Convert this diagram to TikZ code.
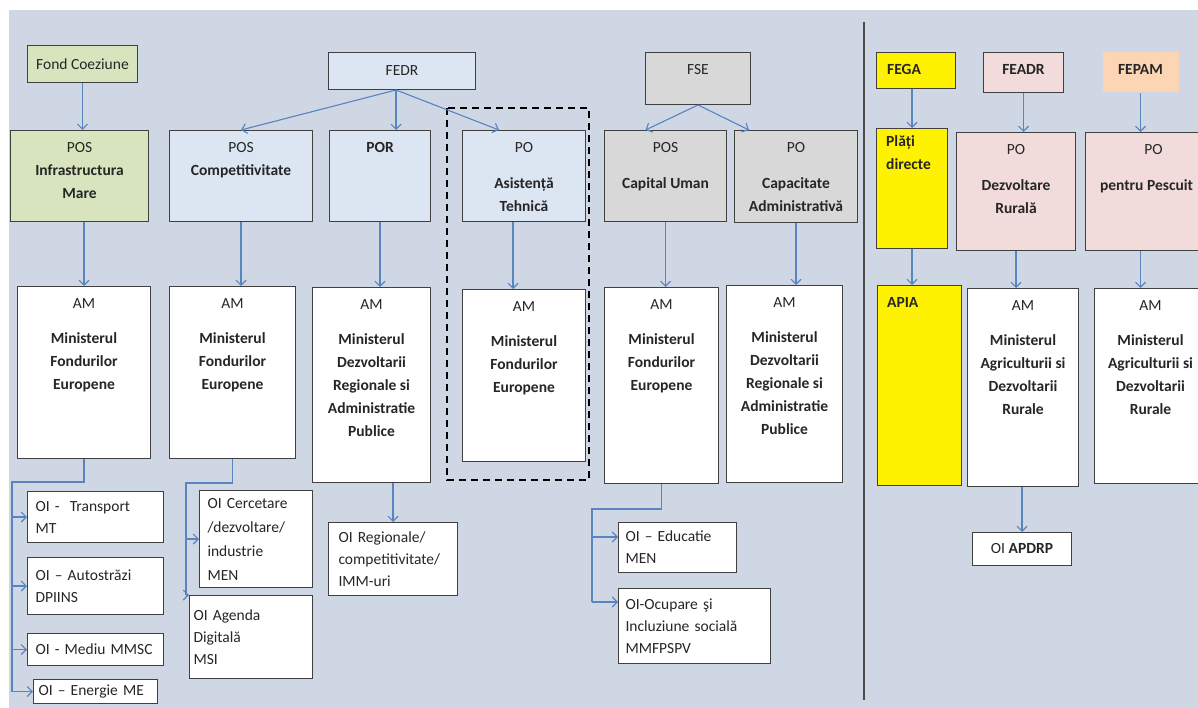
\documentclass[tikz,border=0pt]{standalone}
\usepackage{fontspec}
\setmainfont{Carlito}
\usetikzlibrary{arrows.meta,calc}

\definecolor{bgpanel}{RGB}{207,215,229}
\definecolor{boxline}{RGB}{64,64,64}
\definecolor{linkblue}{RGB}{88,132,192}
\definecolor{fillgreen}{RGB}{215,228,189}
\definecolor{fillblue}{RGB}{220,230,242}
\definecolor{fillgrey}{RGB}{216,216,216}
\definecolor{fillpink}{RGB}{242,220,219}
\definecolor{fillpeach}{RGB}{252,213,180}

\tikzset{
  box/.style={draw=boxline, line width=1pt, anchor=north west, inner sep=0pt},
  toptext/.style={anchor=north, align=center, inner sep=0pt, yshift=-12pt},
  oi/.style={box, fill=white, align=left, inner xsep=8pt, font=\fontsize{15.5}{22}\selectfont},
  link/.style={draw=linkblue, line width=1.1pt},
  arr/.style={link, -{Straight Barb[length=5pt,width=10pt]}},
}

\begin{document}
\begin{tikzpicture}[x=1pt, y=-1pt, font=\fontsize{15.5}{23}\selectfont, text=black!85]

\clip (0,0) rectangle (1198,708);
\fill[bgpanel] (9,10) rectangle (1198,708);

% funds
\node[box, fill=fillgreen, minimum width=110, minimum height=37] (fc) at (27,45) {Fond Coeziune};
\node[box, fill=fillblue, minimum width=147, minimum height=37] (fedr) at (328,52) {FEDR};
\node[box, fill=fillgrey, minimum width=105, minimum height=52] (fse) at (645,52) {};
\node[toptext] (fset) at (fse.north) {FSE};
\node[box, fill=yellow, minimum width=79, minimum height=36] (fega) at (876,52) {};
\node[toptext, anchor=north west, xshift=11pt] (fegat) at (fega.north west) {\textbf{FEGA}};
\node[box, fill=fillpink, minimum width=80, minimum height=40] (feadr) at (983,52) {};
\node[toptext] (feadrt) at (feadr.north) {\textbf{FEADR}};
\node[box, draw=none, fill=fillpeach, minimum width=76, minimum height=40] (fepam) at (1102,52) {};
\node[toptext] (fepamt) at (fepam.north) {\textbf{FEPAM}};

% programmes
\node[box, fill=fillgreen, minimum width=138, minimum height=91] (posim) at (10,130) {};
\node[toptext] (posimt) at (posim.north) {POS\\\textbf{Infrastructura}\\\textbf{Mare}};
\node[box, fill=fillblue, minimum width=143, minimum height=91] (posc) at (169,130) {};
\node[toptext] (posct) at (posc.north) {POS\\\textbf{Competitivitate}};
\node[box, fill=fillblue, minimum width=101, minimum height=91] (por) at (329,130) {};
\node[toptext] (port) at (por.north) {\textbf{POR}};
\node[box, fill=fillblue, minimum width=123, minimum height=91] (poat) at (462,130) {};
\node[toptext] (poatt) at (poat.north) {PO\\[13pt]\textbf{Asistență}\\\textbf{Tehnică}};
\node[box, fill=fillgrey, minimum width=122, minimum height=91] (pscu) at (604,130) {};
\node[toptext] (pscut) at (pscu.north) {POS\\[13pt]\textbf{Capital Uman}};
\node[box, fill=fillgrey, minimum width=123, minimum height=92] (pcap) at (734,130) {};
\node[toptext] (pcapt) at (pcap.north) {PO\\[13pt]\textbf{Capacitate}\\\textbf{Administrativă}};
\node[box, fill=yellow, minimum width=71, minimum height=120] (plati) at (876,128) {};
\node[toptext, anchor=north west, align=left, xshift=10pt, yshift=5pt] (platit) at (plati.north west) {\textbf{Plăți}\\\textbf{directe}};
\node[box, fill=fillpink, minimum width=119, minimum height=118] (podr) at (956,132) {};
\node[toptext] (podrt) at (podr.north) {PO\\[13pt]\textbf{Dezvoltare}\\\textbf{Rurală}};
\node[box, fill=fillpink, minimum width=130, minimum height=118] (popesc) at (1085,132) {};
\node[toptext, xshift=-4pt] (popesct) at (popesc.north) {\ \ \ \ PO\\[13pt]\textbf{pentru Pescuit}};

% managing authorities
\node[box, fill=white, minimum width=133, minimum height=172] (am1) at (17,286) {};
\node[toptext] (am1t) at (am1.north) {AM\\[12pt]\textbf{Ministerul}\\\textbf{Fondurilor}\\\textbf{Europene}};
\node[box, fill=white, minimum width=126, minimum height=172] (am2) at (169,286) {};
\node[toptext] (am2t) at (am2.north) {AM\\[12pt]\textbf{Ministerul}\\\textbf{Fondurilor}\\\textbf{Europene}};
\node[box, fill=white, minimum width=118, minimum height=195] (am3) at (312,287) {};
\node[toptext] (am3t) at (am3.north) {AM\\[12pt]\textbf{Ministerul}\\\textbf{Dezvoltarii}\\\textbf{Regionale si}\\\textbf{Administratie}\\\textbf{Publice}};
\node[box, fill=white, minimum width=123, minimum height=172] (am4) at (462,289) {};
\node[toptext] (am4t) at (am4.north) {AM\\[12pt]\textbf{Ministerul}\\\textbf{Fondurilor}\\\textbf{Europene}};
\node[box, fill=white, minimum width=114, minimum height=196] (am5) at (604,287) {};
\node[toptext] (am5t) at (am5.north) {AM\\[12pt]\textbf{Ministerul}\\\textbf{Fondurilor}\\\textbf{Europene}};
\node[box, fill=white, minimum width=116, minimum height=197] (am6) at (726,285) {};
\node[toptext] (am6t) at (am6.north) {AM\\[12pt]\textbf{Ministerul}\\\textbf{Dezvoltarii}\\\textbf{Regionale si}\\\textbf{Administratie}\\\textbf{Publice}};
\node[box, fill=yellow, minimum width=84, minimum height=200] (apia) at (877,285) {};
\node[toptext, anchor=north west, xshift=10pt] (apiat) at (apia.north west) {\textbf{APIA}};
\node[box, fill=white, minimum width=111, minimum height=198] (am7) at (967,288) {};
\node[toptext] (am7t) at (am7.north) {AM\\[12pt]\textbf{Ministerul}\\\textbf{Agriculturii si}\\\textbf{Dezvoltarii}\\\textbf{Rurale}};
\node[box, fill=white, minimum width=112, minimum height=195] (am8) at (1094,288) {};
\node[toptext] (am8t) at (am8.north) {AM\\[12pt]\textbf{Ministerul}\\\textbf{Agriculturii si}\\\textbf{Dezvoltarii}\\\textbf{Rurale}};

% intermediate bodies
\node[oi, text width=120, minimum height=51] (oitr) at (27,491) {OI -\ \ Transport\\MT};
\node[oi, text width=120, minimum height=57] (oiau) at (27,557) {OI – Autostrăzi\\DPIINS};
\node[oi, text width=120, minimum height=32] (oimd) at (27,633) {OI - Mediu MMSC};
\node[oi, inner xsep=5pt, text width=114, minimum height=24] (oien) at (33,679) {OI – Energie ME};
\node[oi, text width=97, minimum height=97, font=\fontsize{15.5}{24}\selectfont] (oicd) at (199,490) {OI Cercetare\\/dezvoltare/\\industrie\\MEN};
\node[oi, inner xsep=4pt, text width=115, minimum height=83] (oiag) at (189,595) {OI Agenda\\Digitală\\MSI};
\node[oi, inner xsep=10pt, text width=109, minimum height=73] (oirg) at (328,522) {OI Regionale/\\competitivitate/\\IMM-uri};
\node[oi, inner xsep=7pt, text width=104, minimum height=50] (oied) at (618,522) {OI – Educatie\\MEN};
\node[oi, inner xsep=7pt, text width=138, minimum height=75] (oioc) at (618,588) {OI-Ocupare şi\\Incluziune socială\\MMFPSPV};
\node[box, fill=white, minimum width=99, minimum height=33] (apdrp) at (972,532) {OI \textbf{APDRP}};

% frames
\draw[line width=1.5pt, dash pattern=on 7pt off 5pt] (447,108) rectangle (589,480);
\draw[line width=1.2pt, draw=black!70] (864,22) -- (864,700);

% links from funds
\draw[arr] (fc.south) -- (fc.south |- posim.north);
\coordinate (fedrout) at ($(fedr.south)+(-6,0)$);
\draw[arr] (fedrout) -- (posc.north);
\draw[arr] (fedrout) -- (fedrout |- por.north);
\draw[arr] (fedrout) -- ($(poat.north)+(-25,0)$);
\draw[arr] (fse.south) -- ($(pscu.north)+(-20,0)$);
\draw[arr] (fse.south) -- ($(pcap.north)+(-47,0)$);
\draw[arr] (plati.north |- fega.south) -- (plati.north);
\draw[arr] (feadr.south) -- (feadr.south |- podr.north);
\draw[arr] (fepam.south) -- (fepam.south |- popesc.north);

% links to managing authorities
\draw[arr] (am1.north |- posim.south) -- (am1.north);
\draw[arr] (posc.south) -- (posc.south |- am2.north);
\draw[arr] (por.south) -- (por.south |- am3.north);
\draw[arr] ($(poat.south)+(-11,0)$) -- ($(am4.north)+(-11,0)$);
\draw[arr] (pscu.south) -- (pscu.south |- am5.north);
\draw[arr] (pcap.south) -- (pcap.south |- am6.north);
\draw[arr] (plati.south) -- (plati.south |- apia.north);
\draw[arr] (podr.south) -- (podr.south |- am7.north);
\draw[arr] (fepam.south |- popesc.south) -- (fepam.south |- am8.north);

% links to intermediate bodies
\coordinate (sp1) at (12,482);
\draw[link] (am1.south) |- (sp1) -- (sp1 |- oien.west);
\foreach \t in {oitr,oiau,oimd,oien}
  \draw[arr] (sp1 |- \t.west) -- (\t.west);

\coordinate (sp2) at (186,483);
\draw[link] (am2.south) |- (sp2) -- (sp2 |- oiag.north west);
\draw[arr] (sp2 |- oicd.west) -- (oicd.west);
\draw[arr] (sp2 |- oiag.north west) -- (oiag.north west);

\draw[arr] (oirg.north |- am3.south) -- (oirg.north);

\coordinate (sp5) at (592,509);
\coordinate (oiedin) at ($(oied.north west)+(0,15)$);
\coordinate (oiocin) at ($(oioc.north west)+(0,14)$);
\draw[link] (am5.south) |- (sp5) -- (sp5 |- oiocin);
\draw[arr] (sp5 |- oiedin) -- (oiedin);
\draw[arr] (sp5 |- oiocin) -- (oiocin);

\draw[arr] (apdrp.north |- am7.south) -- (apdrp.north);

\end{tikzpicture}
\end{document}
